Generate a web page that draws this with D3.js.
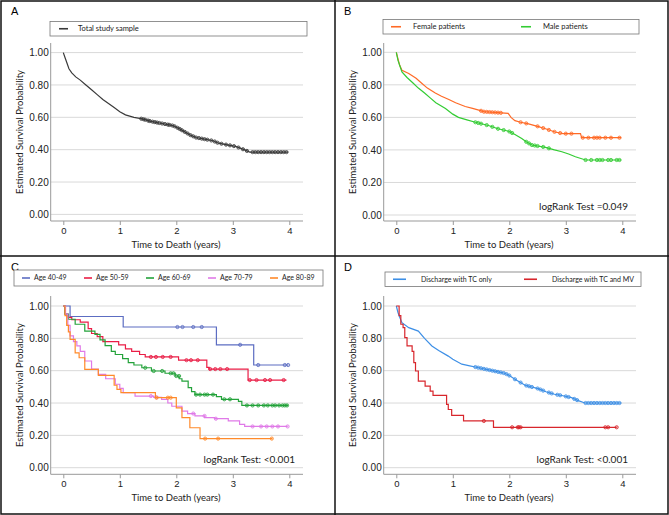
<!DOCTYPE html>
<html>
<head>
<meta charset="utf-8">
<script src="https://cdn.jsdelivr.net/npm/d3@7"></script>
<style>
  body { margin: 0; background: #fff; }
  svg { display: block; font-family: Lato, "Open Sans", sans-serif; }
</style>
</head>
<body>
<script>
// chart values
var xTicks = [0, 1, 2, 3, 4];
var yTicks = [0, 0.2, 0.4, 0.6, 0.8, 1.0];

// A - whole sample
var totalSurv = [[0,1],[0.03,0.97],[0.06,0.94],[0.1,0.9],[0.15,0.875],[0.22,0.85],[0.3,0.83],[0.4,0.8],[0.5,0.77],[0.6,0.74],[0.7,0.71],[0.8,0.685],[0.9,0.66],[1.0,0.635],[1.1,0.615],[1.25,0.6],[1.4,0.59],[1.55,0.575],[1.7,0.565],[1.85,0.555],[1.95,0.548],[2.05,0.53],[2.15,0.51],[2.25,0.49],[2.35,0.475],[2.5,0.465],[2.65,0.455],[2.75,0.44],[2.9,0.43],[3.05,0.42],[3.2,0.4],[3.3,0.385],[3.98,0.385]];
var totalCens = [1.38,1.42,1.45,1.5,1.53,1.58,1.62,1.66,1.7,1.75,1.8,1.85,1.88,1.93,1.97,2.02,2.06,2.1,2.15,2.2,2.25,2.3,2.35,2.4,2.45,2.5,2.55,2.62,2.68,2.73,2.8,2.88,2.95,3.02,3.1,3.18,3.25,3.35,3.4,3.45,3.5,3.55,3.6,3.65,3.7,3.75,3.8,3.85,3.9,3.95];

// B - sex
var femaleSurv = [[0,1],[0.03,0.96],[0.06,0.92],[0.1,0.89],[0.22,0.87],[0.35,0.84],[0.45,0.81],[0.55,0.78],[0.69,0.75],[0.8,0.73],[0.93,0.71],[1.05,0.69],[1.22,0.667],[1.35,0.655],[1.46,0.645],[1.55,0.635],[1.98,0.625],[2.03,0.6],[2.1,0.58],[2.2,0.57],[2.34,0.56],[2.5,0.545],[2.64,0.53],[2.81,0.51],[2.95,0.5],[3.26,0.5],[3.28,0.475],[3.98,0.475]];
var femaleCens = [1.5,1.55,1.6,1.65,1.7,1.75,1.8,1.85,2.2,2.3,2.5,2.6,2.7,2.8,2.9,3.0,3.1,3.3,3.4,3.5,3.55,3.6,3.7,3.8,3.95];
var maleSurv = [[0,1],[0.03,0.95],[0.07,0.91],[0.1,0.88],[0.19,0.845],[0.3,0.81],[0.39,0.78],[0.5,0.75],[0.6,0.72],[0.7,0.69],[0.87,0.655],[1.0,0.62],[1.1,0.6],[1.25,0.585],[1.4,0.57],[1.63,0.55],[1.8,0.53],[1.99,0.515],[2.1,0.495],[2.22,0.47],[2.3,0.45],[2.4,0.43],[2.64,0.416],[2.8,0.4],[2.93,0.389],[3.05,0.375],[3.17,0.358],[3.35,0.338],[3.98,0.338]];
var maleCens = [1.4,1.45,1.5,1.6,1.7,1.8,1.9,2.0,2.05,2.3,2.35,2.4,2.45,2.5,2.6,2.7,3.35,3.45,3.55,3.6,3.65,3.75,3.8,3.9,3.95];

// C - age groups
var age40Surv = [[0,1],[0.12,0.935],[1.06,0.87],[2.71,0.76],[3.37,0.635],[3.98,0.635]];
var age40Cens = [2.02,2.11,2.3,2.45,3.13,3.45,3.92,3.98];
var age50Surv = [[0,1],[0.03,0.95],[0.08,0.93],[0.15,0.915],[0.3,0.9],[0.44,0.86],[0.5,0.83],[0.6,0.81],[0.7,0.78],[0.98,0.76],[1.1,0.735],[1.21,0.72],[1.35,0.7],[1.45,0.685],[2.04,0.665],[2.54,0.62],[2.58,0.61],[3.27,0.542],[3.95,0.542]];
var age50Cens = [1.55,1.64,1.76,1.9,2.18,2.26,2.38,2.6,2.69,2.78,2.9,3.3,3.42,3.57,3.66,3.9];
var age60Surv = [[0,1],[0.03,0.95],[0.09,0.918],[0.21,0.887],[0.38,0.845],[0.56,0.825],[0.65,0.79],[0.74,0.755],[0.85,0.72],[0.92,0.7],[1.05,0.675],[1.15,0.65],[1.25,0.635],[1.39,0.618],[1.56,0.598],[1.8,0.584],[1.98,0.567],[2.05,0.55],[2.1,0.536],[2.21,0.495],[2.27,0.47],[2.33,0.452],[2.71,0.44],[2.8,0.423],[3.1,0.41],[3.16,0.385],[3.98,0.385]];
var age60Cens = [1.45,1.6,1.75,1.9,1.95,2.0,2.05,2.35,2.42,2.5,2.55,2.65,2.85,2.95,3.25,3.35,3.45,3.55,3.62,3.7,3.75,3.82,3.88,3.92,3.96];
var age70Surv = [[0,1],[0.04,0.95],[0.08,0.88],[0.12,0.815],[0.18,0.78],[0.24,0.753],[0.3,0.72],[0.38,0.66],[0.5,0.61],[0.62,0.577],[0.75,0.55],[0.92,0.516],[1.0,0.49],[1.06,0.464],[1.27,0.443],[1.6,0.435],[1.74,0.423],[1.85,0.4],[1.92,0.38],[2.1,0.35],[2.2,0.335],[2.33,0.32],[2.5,0.31],[2.68,0.303],[2.92,0.29],[3.12,0.268],[3.21,0.255],[3.97,0.255]];
var age70Cens = [1.55,1.65,2.3,2.5,2.7,3.35,3.5,3.6,3.7,3.8,3.97];
var age80Surv = [[0,1],[0.03,0.94],[0.06,0.88],[0.09,0.84],[0.12,0.794],[0.21,0.71],[0.28,0.68],[0.38,0.608],[0.62,0.571],[0.9,0.51],[0.95,0.485],[1.02,0.464],[1.63,0.433],[2.0,0.37],[2.1,0.31],[2.24,0.247],[2.42,0.18],[3.7,0.18]];
var age80Cens = [1.65,1.85,1.9,2.51,2.74,3.69];

// D - discharge
var tcSurv = [[0,1],[0.03,0.96],[0.06,0.93],[0.1,0.897],[0.22,0.866],[0.39,0.845],[0.5,0.8],[0.63,0.753],[0.75,0.725],[0.92,0.69],[1.0,0.67],[1.16,0.64],[1.3,0.63],[1.46,0.618],[1.7,0.6],[1.92,0.584],[2.0,0.57],[2.1,0.547],[2.28,0.51],[2.51,0.489],[2.65,0.47],[2.8,0.454],[2.95,0.445],[3.1,0.433],[3.22,0.415],[3.34,0.4],[3.98,0.4]];
var tcCens = [1.4,1.45,1.5,1.55,1.6,1.65,1.7,1.75,1.8,1.85,1.9,1.95,2.0,2.1,2.2,2.3,2.35,2.4,2.5,2.55,2.6,2.7,2.75,2.85,2.9,3.0,3.05,3.15,3.2,3.35,3.4,3.45,3.5,3.55,3.6,3.65,3.7,3.75,3.8,3.85,3.9,3.95];
var tcmvSurv = [[0,1],[0.05,0.94],[0.08,0.887],[0.12,0.866],[0.15,0.804],[0.19,0.753],[0.28,0.72],[0.31,0.65],[0.34,0.598],[0.39,0.536],[0.51,0.505],[0.6,0.474],[0.65,0.447],[0.89,0.392],[0.92,0.36],[0.98,0.324],[1.19,0.289],[1.72,0.25],[3.9,0.25]];
var tcmvCens = [1.55,2.05,2.15,2.17,2.2,3.7,3.75,3.9];

var W = 669, H = 515;
var svg = d3.select('body').append('svg').attr('width', W).attr('height', H);

// value of the curve at time t (as drawn)
function survAt(data, t, dense) {
  for (var i = 1; i < data.length; i++) {
    if (data[i][0] >= t) {
      var a = data[i - 1], b = data[i];
      if (!dense) return a[1];
      return a[1] + (b[1] - a[1]) * (t - a[0]) / (b[0] - a[0]);
    }
  }
  return data[data.length - 1][1];
}

function drawPanel(cfg) {
  var g = svg.append('g').attr('transform', 'translate(' + cfg.ox + ',' + cfg.oy + ')');
  var x = d3.scaleLinear().domain([0, 4]).range([63.3, 289.3]);
  var y = d3.scaleLinear().domain([0, 1]).range([cfg.yb, cfg.yt]);
  var axL = 50.7, axR = 303;

  g.append('text').attr('x', 11).attr('y', 15).text(cfg.letter)
    .style('font-family', '"Liberation Sans", Arial, sans-serif').style('font-size', '11px').attr('fill', '#000');

  // legend box
  var lg = g.append('g');
  lg.append('rect').attr('x', cfg.leg.x).attr('y', cfg.leg.y).attr('width', cfg.leg.w).attr('height', cfg.leg.h)
    .attr('fill', '#fff').attr('stroke', '#777').attr('stroke-width', 0.8);
  cfg.series.forEach(function(s, i) {
    var lx = cfg.leg.x + cfg.leg.pos[i];
    var cy = cfg.leg.y + cfg.leg.h / 2;
    lg.append('line').attr('x1', lx).attr('x2', lx + cfg.leg.sw).attr('y1', cy).attr('y2', cy)
      .attr('stroke', s.color).attr('stroke-width', 1.6);
    lg.append('text').attr('x', lx + cfg.leg.sw + cfg.leg.gap).attr('y', cy).attr('dy', '0.35em')
      .style('font-size', cfg.leg.fs + 'px').attr('fill', '#222').text(s.name);
  });

  // grid
  g.selectAll('.grid').data(yTicks).enter().append('line')
    .attr('x1', axL).attr('x2', axR).attr('y1', function(d) { return y(d); }).attr('y2', function(d) { return y(d); })
    .attr('stroke', '#d9d9d9').attr('stroke-width', 1);

  // axes
  var ya = g.append('g').attr('transform', 'translate(' + axL + ',0)')
    .call(d3.axisLeft(y).tickValues(yTicks).tickSize(0).tickPadding(2).tickFormat(d3.format('.2f')));
  ya.select('.domain').remove();
  ya.selectAll('text').style('font-size', '10px').attr('fill', '#222');

  var xa = g.append('g').attr('transform', 'translate(0,' + cfg.axB + ')')
    .call(d3.axisBottom(x).tickValues(xTicks).tickSize(4).tickPadding(2).tickFormat(d3.format('d')));
  xa.select('.domain').remove();
  xa.selectAll('line').attr('stroke', '#999');
  xa.selectAll('text').style('font-size', '9.5px').attr('fill', '#222');

  g.append('line').attr('x1', axL).attr('x2', axL).attr('y1', cfg.axT).attr('y2', cfg.axB).attr('stroke', '#999');
  g.append('line').attr('x1', axL).attr('x2', axR).attr('y1', cfg.axB).attr('y2', cfg.axB).attr('stroke', '#999');

  g.append('text').attr('x', 176).attr('y', cfg.axB + 23.5).attr('dy', '0.35em').attr('text-anchor', 'middle')
    .style('font-size', '9.5px').attr('fill', '#222').text('Time to Death (years)');
  g.append('text').attr('transform', 'translate(20,' + ((cfg.axT + cfg.axB) / 2) + ') rotate(-90)')
    .attr('text-anchor', 'middle').attr('dy', '0.35em')
    .style('font-size', '9.5px').attr('fill', '#222').text('Estimated Survival Probability');

  if (cfg.note) {
    g.append('text').attr('x', 295).attr('y', cfg.noteY).attr('text-anchor', 'end')
      .style('font-size', '10px').attr('fill', '#222').text(cfg.note);
  }

  cfg.series.forEach(function(s) {
    var line = d3.line().x(function(d) { return x(d[0]); }).y(function(d) { return y(d[1]); })
      .curve(s.dense ? d3.curveLinear : d3.curveStepAfter);
    g.append('path').datum(s.surv).attr('d', line).attr('fill', 'none')
      .attr('stroke', s.color).attr('stroke-width', 1.2);
    g.selectAll(null).data(s.cens).enter().append('circle')
      .attr('cx', function(t) { return x(t); }).attr('cy', function(t) { return y(survAt(s.surv, t, s.dense)); })
      .attr('r', 1.6).attr('fill', s.color).attr('fill-opacity', 0.35)
      .attr('stroke', s.color).attr('stroke-width', 1).attr('opacity', 0.85);
  });
}

drawPanel({
  ox: 0, oy: 0, letter: 'A', yt: 52.6, yb: 214.4, axT: 43, axB: 221,
  leg: { x: 50, y: 21.5, w: 257, h: 14.5, pos: [9], sw: 9, gap: 10, fs: 7.5 },
  series: [{ name: 'Total study sample', color: '#3a3a3a', surv: totalSurv, cens: totalCens, dense: true }]
});
drawPanel({
  ox: 333, oy: 0, letter: 'B', yt: 52.3, yb: 215, axT: 43, axB: 221,
  leg: { x: 50, y: 19.5, w: 256, h: 14.5, pos: [8, 138], sw: 10, gap: 12, fs: 7.5 },
  note: 'logRank Test =0.049', noteY: 210,
  series: [
    { name: 'Female patients', color: '#ff6a26', surv: femaleSurv, cens: femaleCens, dense: true },
    { name: 'Male patients', color: '#33cc33', surv: maleSurv, cens: maleCens, dense: true }
  ]
});
drawPanel({
  ox: 0, oy: 256, letter: 'C', yt: 50, yb: 211.7, axT: 40, axB: 218.3,
  leg: { x: 14, y: 14, w: 309, h: 16, pos: [8, 70, 132, 194, 256], sw: 8, gap: 4, fs: 7 },
  note: 'logRank Test: <0.001', noteY: 207,
  series: [
    { name: 'Age 40-49', color: '#5c6dc2', surv: age40Surv, cens: age40Cens },
    { name: 'Age 50-59', color: '#ea1d45', surv: age50Surv, cens: age50Cens },
    { name: 'Age 60-69', color: '#23a23a', surv: age60Surv, cens: age60Cens },
    { name: 'Age 70-79', color: '#e07ae8', surv: age70Surv, cens: age70Cens },
    { name: 'Age 80-89', color: '#ff8a2a', surv: age80Surv, cens: age80Cens }
  ]
});
drawPanel({
  ox: 333, oy: 256, letter: 'D', yt: 50, yb: 211.7, axT: 40, axB: 218.3,
  leg: { x: 52, y: 16, w: 256, h: 14.5, pos: [8, 139], sw: 13, gap: 15, fs: 7 },
  note: 'logRank Test: <0.001', noteY: 207,
  series: [
    { name: 'Discharge with TC only', color: '#3d8fe6', surv: tcSurv, cens: tcCens, dense: true },
    { name: 'Discharge with TC and MV', color: '#d8262c', surv: tcmvSurv, cens: tcmvCens }
  ]
});

// frame and dividers
svg.append('rect').attr('x', 1).attr('y', 1).attr('width', W - 2).attr('height', H - 2)
  .attr('fill', 'none').attr('stroke', '#111').attr('stroke-width', 1.5);
svg.append('line').attr('x1', 335).attr('x2', 335).attr('y1', 0).attr('y2', H).attr('stroke', '#111').attr('stroke-width', 1.5);
svg.append('line').attr('x1', 0).attr('x2', W).attr('y1', 256).attr('y2', 256).attr('stroke', '#111').attr('stroke-width', 1.5);
</script>
</body>
</html>
